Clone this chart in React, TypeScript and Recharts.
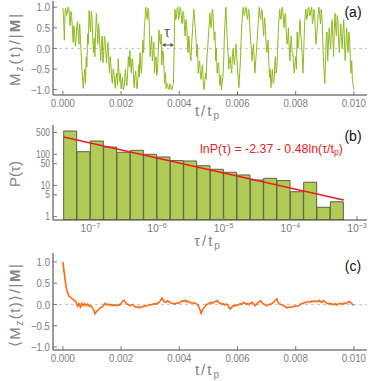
import React from "react";
import { LineChart, Line, XAxis, YAxis, ReferenceLine, ComposedChart, Bar } from "recharts";

// sampling steps of the time traces (t/tp)
const DT_SWITCH = 0.000025;
const DT_AVG = 0.00005;

// (a) Mz(t)/|M|
const switchingTrace = [
  0.98, 0.7, 0.2, 0.9, 0.97, 0.8, 0.85, 1.0, 0.99, 0.75,
  0.55, 0.9, 0.8, 0.5, 0.15, 0.55, 0.45, 0.05, 0.2, 0.5,
  0.65, 0.35, 0.1, 0.6, 0.3, -0.1, -0.45, -0.7, -0.97, -0.7,
  -0.5, -0.85, -0.2, -0.45, 0.35, 0.1, 0.92, 0.6, 0.4, 0.9,
  0.75, 0.3, -0.1, 0.25, -0.2, 0.4, 0.85, 0.55, 0.1, 0.6,
  0.4, 0.0, -0.3, 0.1, 0.3, -0.35, -0.15, 0.3, 0.2, -0.1,
  -0.35, 0.0, 0.15, -0.3, -0.6, -0.2, -0.4, -0.7, -0.85, -0.5,
  -0.55, -0.8, -0.97, -0.7, -0.6, -0.9, -0.25, -0.55, -0.8, -0.6,
  -0.98, -0.8, -0.7, -1.0, -0.95, -0.75, -0.5, -0.8, -0.9, -0.6,
  -0.2, -0.45, -0.05, -0.35, -0.6, -0.25, -0.3, -0.7, -0.95, -0.65,
  -0.55, -0.85, -0.98, -0.75, -0.4, -0.7, -0.1, -0.45, -0.6, -0.2,
  0.2, -0.1, 0.5, 0.75, 1.0, 0.8, 0.7, 0.97, 0.9, 0.4,
  -0.2, 0.1, 0.3, -0.3, -0.1, 0.15, -0.6, -0.3, -0.2, -0.65,
  -0.55, -0.1, 0.45, 0.2, 0.1, 0.35, -0.4, -0.05, -0.1, -0.5,
  -0.85, -0.6, -0.98, -0.85, -0.9, -0.97, -1.0, -0.86, -0.88, -1.0,
  -0.99, -0.9, -0.85, 0.1, 0.95, 0.7, 0.75, 0.98, 1.0, 0.7,
  0.8, 1.0, 0.95, 0.7, 0.6, 0.9, 0.85, 0.55, 0.3, 0.7,
  0.6, 0.2, -0.1, 0.3, 0.1, -0.2, -0.3, 0.1, 0.4, 0.7,
  0.95, 0.7, 0.5, 0.2, -0.2, 0.1, -0.6, -0.4, -0.3, -0.65,
  -0.75, -0.5, -0.4, -0.85, -1.0, -0.8, -0.6, -0.75, -0.2, 0.0,
  0.3, 0.55, 0.85, 0.6, 0.5, 0.9, 0.95, 0.6, 0.2, 0.4,
  -0.3, 0.0, -0.6, -0.4, -0.35, -0.7, -0.9, -0.65, -1.0, -0.8,
  -0.7, -0.3, 0.3, 0.7, 1.0, 0.6, 0.2, -0.1, -0.5, -0.3,
  -0.2, -0.45, -0.6, -0.2, 0.0, -0.3, -0.4, -0.1, 0.1, -0.2,
  -0.5, -0.75, -0.95, -0.6, -0.3, 0.2, 0.6, 0.9, 1.0, 0.8,
  0.85, 0.97, 1.0, 0.75, 0.7, 0.95, 0.9, 0.5, 0.2, 0.0,
  -0.3, -0.05, 0.1, -0.3, -0.6, -0.3, -0.1, 0.2, 0.5, 0.8,
  1.0, 0.75, 0.7, 0.95, 0.9, 0.55, 0.3, 0.75, 0.6, 0.25,
  -0.1, -0.05, 0.2, -0.3, -0.7, -0.5, -0.95, -0.7, -0.5, -0.85,
  -0.8, -0.55, -0.2, -0.6, -0.5, -0.1, 0.4, 0.7, 0.95, 0.75,
  0.7, 0.98, 1.0, 0.7, 0.5, 0.8, 0.85, 0.4, 0.1, 0.2,
  0.5, 0.0, -0.3, 0.1, 0.3, -0.1, -0.1, -0.4, -0.6, -0.35,
  -0.2, -0.5, 0.4, 0.0, 0.1, 0.45, 0.7, 0.3, 0.2, -0.2,
  -0.6, -0.1, 0.5, 0.8, 0.95, 0.7, 0.75, 0.98, 1.0, 0.8,
  0.8, 0.95, 1.0, 0.6, 0.7, 0.95, 0.85, 0.4, 0.1, 0.35,
  0.6, 0.85, 1.0, 0.8, 0.6, 0.95, 0.8, 0.3, -0.2, -0.55,
  -0.85, -0.3, 0.2, 0.4, -0.3, 0.1, 0.5, 0.2, 0.0, 0.4,
  0.7, 0.3, -0.2, 0.4, 0.85, 0.5, 0.3, 0.8, 0.7, 0.2,
  -0.1, 0.3, 0.6, 0.2, 0.0, 0.45, 0.7, 0.2, -0.3, 0.1,
  0.5, 0.1, -0.1, 0.4, 0.3, -0.2, -0.6, -0.3, -0.8, -0.9,
  -1.0,
];

// (c) <Mz(t)>/|M|
const averagedTrace = [
  1.0, 0.72, 0.45, 0.3, 0.21, 0.17, 0.15, 0.12, 0.1, 0.06,
  -0.04, 0.02, -0.06, 0.03, -0.02, 0.02, -0.03, 0.01, -0.04, -0.03,
  -0.06, -0.12, -0.22, -0.17, -0.14, -0.1, -0.07, -0.06, -0.02, 0.03,
  -0.01, 0.01, -0.02, 0.0, -0.03, -0.01, -0.02, -0.03, 0.0, -0.02,
  0.02, 0.08, 0.1, 0.05, 0.01, 0.0, -0.03, -0.01, 0.0, -0.04,
  -0.06, -0.07, -0.05, -0.08, -0.06, -0.05, -0.03, -0.04, -0.03, -0.01,
  0.0, -0.01, 0.01, 0.02, 0.01, 0.03, 0.05, 0.09, 0.15, 0.1,
  0.05, 0.06, 0.09, 0.06, 0.04, 0.03, 0.02, 0.01, 0.03, 0.04,
  0.03, 0.06, 0.09, 0.07, 0.1, 0.06, 0.08, 0.05, 0.04, 0.03,
  0.04, 0.03, 0.01, -0.03, -0.1, -0.21, -0.13, -0.07, -0.03, 0.0,
  0.02, 0.04, 0.05, 0.03, 0.06, 0.07, 0.09, 0.05, 0.03, 0.01,
  0.02, -0.01, 0.01, 0.0, -0.06, -0.11, -0.07, -0.03, -0.04, -0.01,
  -0.02, 0.0, 0.02, 0.0, 0.05, 0.03, 0.01, 0.02, 0.0, 0.03,
  0.05, 0.02, -0.03, 0.0, 0.04, 0.06, 0.09, 0.04, 0.01, -0.01,
  -0.03, -0.01, 0.01, 0.0, 0.03, 0.06, 0.1, 0.13, 0.04, 0.01,
  0.0, -0.02, -0.03, -0.06, -0.08, -0.06, -0.07, -0.05, -0.06, -0.05,
  -0.03, -0.04, -0.03, 0.0, 0.02, 0.03, 0.05, 0.04, 0.06, 0.07,
  0.05, 0.08, 0.06, 0.09, 0.07, 0.06, 0.1, 0.07, 0.05, 0.09,
  0.06, 0.04, 0.02, 0.01, 0.03, 0.0, 0.0, 0.02, -0.01, 0.01,
  0.01, 0.03, 0.0, 0.03, 0.02, 0.04, 0.05, 0.07, 0.04, 0.0,
  -0.02,
];

// (b) histogram of dwell times, bins in log10(tau/tp)
const binCenters = [
  -7.3, -7.1, -6.9, -6.7, -6.5, -6.3, -6.1, -5.9, -5.7, -5.5, -5.3,
  -5.1, -4.9, -4.7, -4.5, -4.3, -4.1, -3.9, -3.7, -3.5, -3.3,
];
const dwellCounts = [
  558, 121, 267, 171, 116, 134, 100, 82, 63, 61, 43,
  33, 26.5, 21.7, 15, 17, 14.3, 6.3, 12.7, 2.0, 3.0,
];
// fitted line end points (log10 tau, P)
const fitStart = { lt: -7.4, p: 360 };
const fitEnd = { lt: -3.2, p: 3.4 };

const timeTicks = [0, 0.002, 0.004, 0.006, 0.008, 0.01];
const magTicks = [-1, -0.5, 0, 0.5, 1];
const decadeTicks = [-7, -6, -5, -4, -3];
const countTicks = [1, 5, 10, 50, 100, 500];

const switchRows = switchingTrace.map((m, i) => ({ t: i * DT_SWITCH, m }));
const averageRows = averagedTrace.map((m, i) => ({ t: i * DT_AVG, m }));
const histRows = binCenters.map((lt, i) => ({ lt, count: dwellCounts[i] }));

const FONT = '"Liberation Sans", Arial, sans-serif';
const TICK = "#7d7d7d";
const FRAME = "#3a3a3a";
const TICKLINE = "#777";
const T_DOMAIN: [number, number] = [-0.00034, 0.01045];

const fmtT = (v: number) => v.toFixed(3);
const fmtM = (v: number) => v.toFixed(1).replace("-", "\u2212");
const fmtC = (v: number) => String(v);

// condensed tick label, like the original's narrow face
const makeTick = (fmt: (v: number) => string, side: "bottom" | "left", size = 11.5) => (props: any) => {
  const { x, y, payload } = props;
  return (
    <text transform={`translate(${x},${y}) scale(0.84,1)`} textAnchor={side === "left" ? "end" : "middle"}
      fill={TICK} fontSize={size} fontFamily={FONT} dy={side === "left" ? "0.36em" : "0.75em"}>
      {fmt(payload.value)}
    </text>
  );
};
const TimeTick = makeTick(fmtT, "bottom");
const MagTick = makeTick(fmtM, "left");
const CountTick = makeTick(fmtC, "left", 10);

const PowerTick = (props: any) => {
  const { x, y, payload } = props;
  return (
    <text transform={`translate(${x},${y}) scale(0.9,1)`} textAnchor="middle" fill={TICK} fontSize={11.5} fontFamily={FONT}>
      <tspan dy="0.85em">10</tspan>
      <tspan dy="-0.45em" fontSize={8}>{"\u2212" + Math.abs(payload.value)}</tspan>
    </text>
  );
};

const frameAxes = (domainX: [number, number], ticksX: number[], domainY: [number, number], ticksY: number[], logY = false) => [
  <XAxis key="xt" xAxisId="top" orientation="top" type="number" domain={domainX} ticks={ticksX}
    allowDataOverflow height={0} tick={false} tickSize={-4} interval={0}
    axisLine={{ stroke: FRAME }} tickLine={{ stroke: TICKLINE }} />,
  <YAxis key="yr" yAxisId="right" orientation="right" type="number" domain={domainY} ticks={ticksY}
    scale={logY ? "log" : "auto"} allowDataOverflow width={0} tick={false} tickSize={-4} interval={0}
    axisLine={{ stroke: FRAME }} tickLine={{ stroke: TICKLINE }} />,
];

const TimePanel = ({ rows, color, width, domainY, height, top }: any) => (
  <LineChart width={374} height={height} data={rows} margin={{ top, right: 7, bottom: 0, left: 0 }}>
    <XAxis xAxisId="b" dataKey="t" type="number" domain={T_DOMAIN} ticks={timeTicks} allowDataOverflow
      tickSize={-4} tickMargin={7} height={height - top - (domainY.h as number)} interval={0}
      tick={<TimeTick />} axisLine={{ stroke: FRAME }} tickLine={{ stroke: TICKLINE }} />
    <YAxis yAxisId="l" type="number" domain={domainY.d} ticks={magTicks} allowDataOverflow width={53}
      tickSize={-4} tickMargin={7} interval={0}
      tick={<MagTick />} axisLine={{ stroke: FRAME }} tickLine={{ stroke: TICKLINE }} />
    {frameAxes(T_DOMAIN, timeTicks, domainY.d, magTicks)}
    <ReferenceLine xAxisId="b" yAxisId="l" y={0} stroke="#b5b5b5" strokeDasharray="3 3" strokeWidth={0.8} />
    <Line xAxisId="b" yAxisId="l" dataKey="m" type="linear" dot={false} isAnimationActive={false}
      stroke={color} strokeWidth={width} />
  </LineChart>
);

const HistPanel = () => (
  <ComposedChart width={374} height={135} data={histRows} margin={{ top: 5, right: 7, bottom: 0, left: 0 }}
    barCategoryGap={0} barGap={0}>
    <XAxis xAxisId="b" dataKey="lt" type="number" domain={[-7.56, -2.85]} ticks={decadeTicks} allowDataOverflow
      tickSize={-4} tickMargin={6} height={35} tick={<PowerTick />} interval={0}
      axisLine={{ stroke: FRAME }} tickLine={{ stroke: TICKLINE }} />
    <YAxis yAxisId="l" type="number" scale="log" domain={[0.78, 870]} ticks={countTicks} allowDataOverflow width={53}
      tickSize={-4} tickMargin={7} tick={<CountTick />} interval={0}
      axisLine={{ stroke: FRAME }} tickLine={{ stroke: TICKLINE }} />
    {frameAxes([-7.56, -2.85], decadeTicks, [0.78, 870], countTicks, true)}
    <Bar xAxisId="b" yAxisId="l" dataKey="count" fill="#b1cb57" stroke="#5f6048" strokeWidth={1}
      isAnimationActive={false} />
    <ReferenceLine xAxisId="b" yAxisId="l" ifOverflow="visible"
      segment={[{ x: fitStart.lt, y: fitStart.p }, { x: fitEnd.lt, y: fitEnd.p }]}
      stroke="#ee1c25" strokeWidth={1.5} />
  </ComposedChart>
);

const titleStyle = { fill: "#858585", fontSize: 15, fontFamily: FONT };
const panelLabel = { fill: "#111", fontSize: 14, fontFamily: FONT };

const Overlay = () => (
  <svg width={374} height={381} style={{ position: "absolute", left: 0, top: 0, pointerEvents: "none" }}>
    {/* panel tags */}
    <text x={353} y={17} textAnchor="middle" {...panelLabel}>(a)</text>
    <text x={353} y={141} textAnchor="middle" {...panelLabel}>(b)</text>
    <text x={353} y={271} textAnchor="middle" {...panelLabel}>(c)</text>

    {/* x titles */}
    <text x={208} y={116} textAnchor="middle" letterSpacing={2} {...titleStyle}>
      t/t<tspan dy={3} fontSize={10}>p</tspan>
    </text>
    <text x={208} y={246} textAnchor="middle" letterSpacing={2} {...titleStyle}>
      τ/t<tspan dy={3} fontSize={10}>p</tspan>
    </text>
    <text x={208} y={375} textAnchor="middle" letterSpacing={2} {...titleStyle}>
      t/t<tspan dy={3} fontSize={10}>p</tspan>
    </text>

    {/* y titles */}
    <text transform="translate(20,49) rotate(-90)" textAnchor="middle" letterSpacing={2} {...titleStyle}>
      M<tspan dy={3} fontSize={10}>z</tspan><tspan dy={-3}>(t)/|</tspan><tspan fontWeight="bold">M</tspan>|
    </text>
    <text transform="translate(20,174) rotate(-90)" textAnchor="middle" {...titleStyle}>P(τ)</text>
    <text transform="translate(20,305) rotate(-90)" textAnchor="middle" letterSpacing={1.5} {...titleStyle}>
      ⟨M<tspan dy={3} fontSize={10}>z</tspan><tspan dy={-3}>(t)⟩/|</tspan><tspan fontWeight="bold">M</tspan>|
    </text>

    {/* fit formula */}
    <text x={200} y={153} fill="#ee1c25" fontSize={12.5} fontFamily={FONT} textLength={143} lengthAdjust="spacingAndGlyphs">
      lnP(τ) = -2.37 - 0.48ln(τ/t<tspan dy={2} fontSize={9}>p</tspan><tspan dy={-2}>)</tspan>
    </text>

    {/* dwell-time marker */}
    <text x={167} y={37} textAnchor="middle" fill="#555" fontSize={14} fontFamily={FONT}>τ</text>
    <line x1={164} y1={45} x2={172} y2={45} stroke="#555" strokeWidth={1} />
    <path d="M162,45 L165.5,43 L165.5,47 Z" fill="#555" />
    <path d="M174,45 L170.5,43 L170.5,47 Z" fill="#555" />
  </svg>
);

export default function App() {
  return (
    <div style={{ position: "absolute", left: 0, top: 0, width: 374, height: 381, background: "#fff" }}>
      <div style={{ position: "absolute", left: 0, top: 0 }}>
        <TimePanel rows={switchRows} color="#8fbb1c" width={1} height={120} top={1}
          domainY={{ d: [-1.13, 1.15], h: 94 }} />
      </div>
      <div style={{ position: "absolute", left: 0, top: 120 }}>
        <HistPanel />
      </div>
      <div style={{ position: "absolute", left: 0, top: 250 }}>
        <TimePanel rows={averageRows} color="#ff6a14" width={1.6} height={131} top={3}
          domainY={{ d: [-1.07, 1.21], h: 97 }} />
      </div>
      <Overlay />
    </div>
  );
}
